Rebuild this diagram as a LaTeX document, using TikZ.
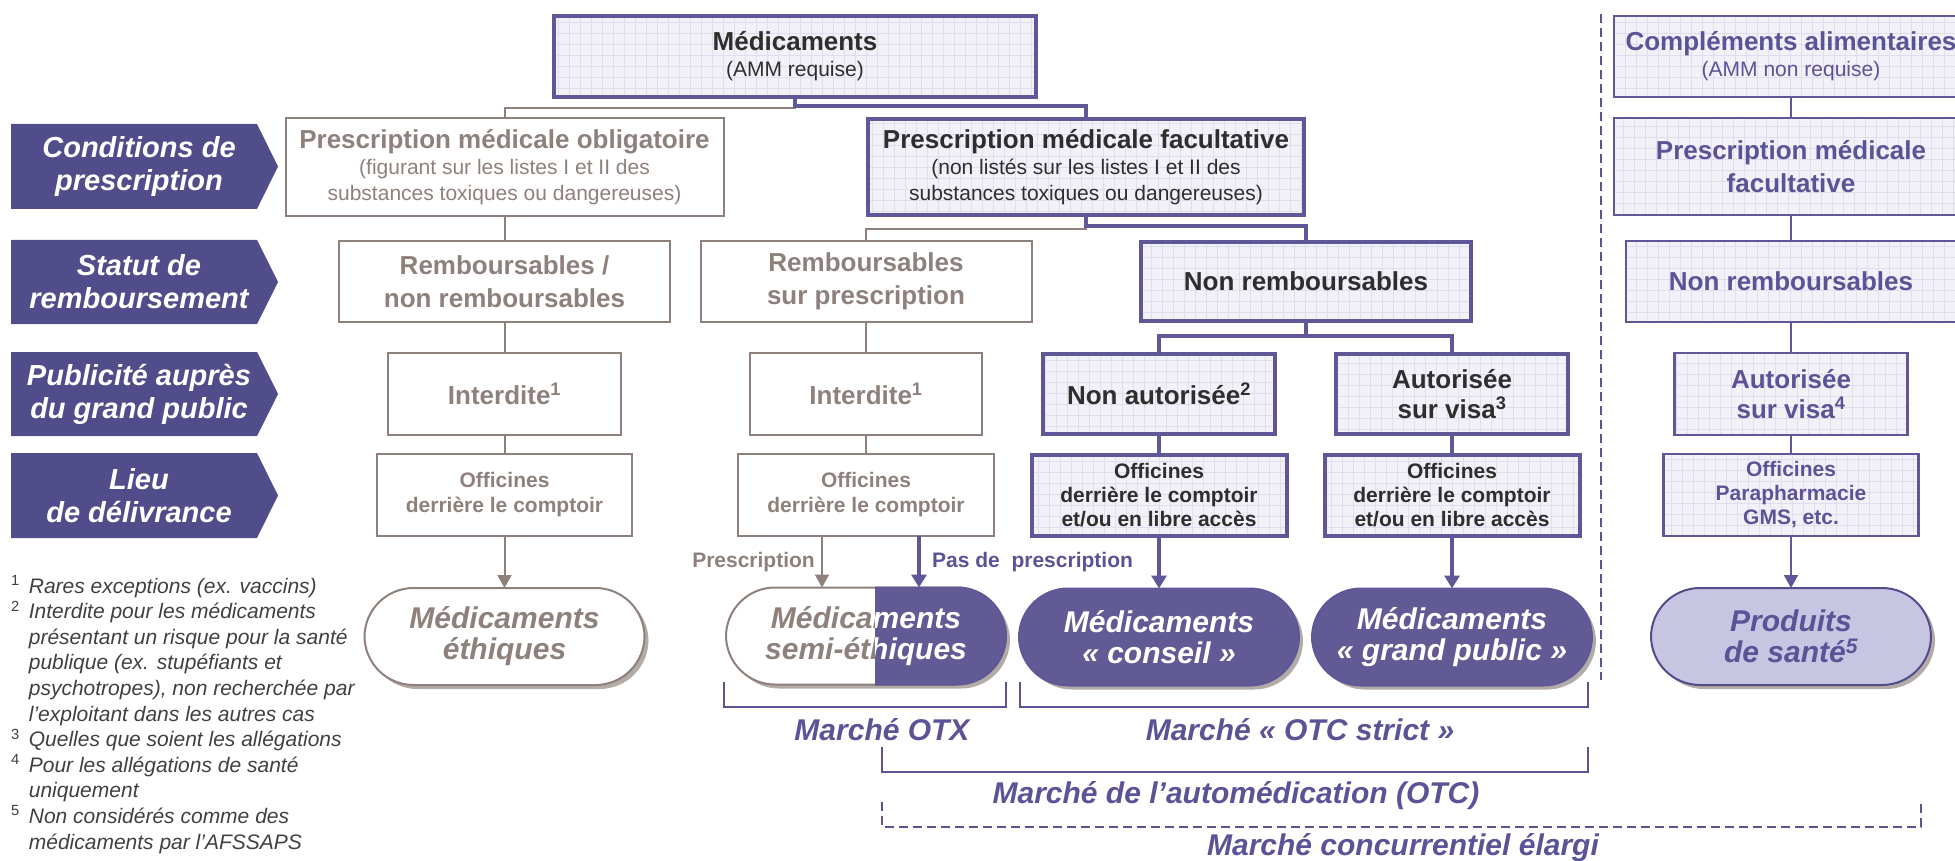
\documentclass[tikz,border=0pt]{standalone}
\usepackage{fontspec}
\setmainfont{Liberation Sans}
\usepackage{xcolor}
\usepackage{tikz}
\usetikzlibrary{arrows.meta,shadows}
\definecolor{catfill}{HTML}{514D8B}
\definecolor{mpurple}{HTML}{5E5899}
\definecolor{tpurple}{HTML}{5A5497}
\definecolor{pillfill}{HTML}{625A94}
\definecolor{lightpill}{HTML}{C8C5E2}
\definecolor{mgrey}{HTML}{8E817C}
\definecolor{darktext}{HTML}{2E2E2E}
\definecolor{boxfill}{HTML}{F2F1F8}
\definecolor{gridcol}{HTML}{E0DEEE}
\definecolor{shadowcol}{HTML}{B3ABA6}
\definecolor{notetext}{HTML}{404040}
\newcommand\boxtitle{\fontsize{26}{26}\selectfont\bfseries}
\tikzset{
  gridfill/.style={fill=boxfill, path picture={\draw[gridcol, line width=0.6pt, step=11pt] (path picture bounding box.south west) grid (path picture bounding box.north east);}},
  gbox/.style={rectangle, draw=mgrey, line width=2pt, fill=white, text=mgrey, align=center, inner sep=0pt, outer sep=0pt},
  pbox/.style={rectangle, draw=mpurple, line width=4pt, gridfill, text=darktext, align=center, inner sep=0pt, outer sep=0pt},
  rbox/.style={rectangle, draw=mpurple, line width=2.2pt, gridfill, text=tpurple, align=center, inner sep=0pt, outer sep=0pt},
  subtxt/.style={font=\fontsize{21}{26}\selectfont},
  bigtxt/.style={font=\fontsize{26}{33}\selectfont\bfseries},
  smalltxt/.style={font=\fontsize{21}{24}\selectfont\bfseries},
  pill/.style={rectangle, rounded corners=49pt, minimum width=280pt, minimum height=97pt, line width=2pt, align=center, inner sep=0pt, outer sep=0pt, font=\fontsize{30}{31}\selectfont\bfseries\itshape},
  pshadow/.style={drop shadow={shadow xshift=4pt, shadow yshift=-4pt, fill=shadowcol, opacity=1}},
  pilltext/.style={align=center, inner sep=0pt, font=\fontsize{30}{31}\selectfont\bfseries\itshape},
  gline/.style={draw=mgrey, line width=2pt},
  pline/.style={draw=mpurple, line width=3.5pt},
  tline/.style={draw=mpurple, line width=2.2pt},
  garrow/.style={gline, -{Triangle[length=13pt,width=14pt]}},
  parrow/.style={pline, -{Triangle[length=13pt,width=15pt]}},
  tarrow/.style={tline, -{Triangle[length=13pt,width=14pt]}},
  bline/.style={draw=tpurple, line width=2pt},
  dline/.style={draw=tpurple, line width=2pt, dash pattern=on 9pt off 5pt},
  cat/.style={text=white, align=center, inner sep=0pt, font=\fontsize{29}{33}\selectfont\bfseries\itshape},
  mlbl/.style={text=tpurple, inner sep=0pt, font=\fontsize{30}{30}\selectfont\bfseries\itshape},
  glbl/.style={text=mgrey, inner sep=0pt, font=\fontsize{21}{21}\selectfont\bfseries},
  plbl/.style={text=tpurple, inner sep=0pt, font=\fontsize{21}{21}\selectfont\bfseries},
  note/.style={text=notetext, inner sep=0pt, align=left, font=\fontsize{21}{25.6}\selectfont\itshape}
}

\begin{document}
\begin{tikzpicture}[x=1pt, y=-1pt]
  \useasboundingbox (0,0) rectangle (1955,861);
  \clip (0,0) rectangle (1955,861);

  % row headers
  \fill[catfill] (11,124) -- (257,124) -- (278,166.5) -- (257,209) -- (11,209) -- cycle;
  \fill[catfill] (11,240) -- (257,240) -- (278,282) -- (257,324) -- (11,324) -- cycle;
  \fill[catfill] (11,352) -- (257,352) -- (278,394) -- (257,436) -- (11,436) -- cycle;
  \fill[catfill] (11,453) -- (257,453) -- (278,495.5) -- (257,538) -- (11,538) -- cycle;
  \node[cat] (cond) at (139,166.5) {Conditions de\\prescription};
  \node[cat] (remb) at (139,282) {Statut de\\remboursement};
  \node[cat] (pub) at (139,394) {Publicité auprès\\du grand public};
  \node[cat] (lieu) at (139,495.5) {Lieu\\de délivrance};

  % boxes
  \node[pbox, subtxt, minimum width=482pt, minimum height=81pt] (med) at (795,56.5) {{\boxtitle Médicaments}\\(AMM requise)};
  \node[rbox, subtxt, minimum width=354pt, minimum height=81pt] (comp) at (1791,56.5) {{\boxtitle Compléments alimentaires}\\(AMM non requise)};

  \node[gbox, subtxt, minimum width=438pt, minimum height=98pt] (pmo) at (504.5,167) {{\boxtitle Prescription médicale obligatoire}\\(figurant sur les listes I et II des\\substances toxiques ou dangereuses)};
  \node[pbox, subtxt, minimum width=436pt, minimum height=96pt] (pmf) at (1086,167) {{\boxtitle Prescription médicale facultative}\\(non listés sur les listes I et II des\\substances toxiques ou dangereuses)};
  \node[rbox, bigtxt, minimum width=354pt, minimum height=97pt] (pmfc) at (1791,166.5) {Prescription médicale\\facultative};

  \node[gbox, bigtxt, minimum width=331pt, minimum height=81pt] (rbnr) at (504.5,281.5) {Remboursables /\\non remboursables};
  \node[gbox, bigtxt, minimum width=331pt, minimum height=81pt] (rbsp) at (866,281.5) {Remboursables\\sur prescription};
  \node[pbox, bigtxt, minimum width=330pt, minimum height=79pt] (nonr) at (1306,281.5) {Non remboursables};
  \node[rbox, bigtxt, minimum width=330pt, minimum height=81pt] (nonrc) at (1791,281.5) {Non remboursables};

  \node[gbox, bigtxt, minimum width=233pt, minimum height=82pt] (int1) at (504.5,394) {Interdite\textsuperscript{1}};
  \node[gbox, bigtxt, minimum width=232pt, minimum height=82pt] (int2) at (866,394) {Interdite\textsuperscript{1}};
  \node[pbox, bigtxt, minimum width=232pt, minimum height=80pt] (nona) at (1159,394) {Non autorisée\textsuperscript{2}};
  \node[pbox, bigtxt, font=\fontsize{26}{30}\selectfont\bfseries, minimum width=232pt, minimum height=80pt] (aut) at (1452,394) {Autorisée\\sur visa\textsuperscript{3}};
  \node[rbox, bigtxt, font=\fontsize{26}{30}\selectfont\bfseries, minimum width=233pt, minimum height=82pt] (autc) at (1791,394) {Autorisée\\sur visa\textsuperscript{4}};

  \node[gbox, smalltxt, font=\fontsize{21}{25}\selectfont\bfseries, minimum width=255pt, minimum height=82pt] (off1) at (504.5,495) {Officines\\derrière le comptoir};
  \node[gbox, smalltxt, font=\fontsize{21}{25}\selectfont\bfseries, minimum width=256pt, minimum height=82pt] (off2) at (866,495) {Officines\\derrière le comptoir};
  \node[pbox, smalltxt, minimum width=255pt, minimum height=81pt] (off3) at (1159,495.5) {Officines\\derrière le comptoir\\et/ou en libre accès};
  \node[pbox, smalltxt, minimum width=255pt, minimum height=81pt] (off4) at (1452,495.5) {Officines\\derrière le comptoir\\et/ou en libre accès};
  \node[rbox, smalltxt, minimum width=255pt, minimum height=82pt] (offc) at (1791,495) {Officines\\Parapharmacie\\GMS, etc.};

  % pills
  \node[pill, pshadow, fill=white, draw=mgrey, text=mgrey] (eth) at (504.5,636.5) {Médicaments\\éthiques};
  \node[pill, pshadow, fill=white, draw=mgrey, text=mgrey] (semi) at (866,636) {Médicaments\\semi-éthiques};
  \begin{scope}
    \clip (875,570) rectangle (1030,700);
    \draw[fill=pillfill, draw=mpurple, line width=2pt, rounded corners=49pt] (semi.south west) rectangle (semi.north east);
    \node[pilltext, text=white] (semiw) at (semi.center) {Médicaments\\semi-éthiques};
  \end{scope}
  \node[pill, pshadow, fill=pillfill, draw=mpurple, text=white] (cons) at (1159,637) {Médicaments\\«~conseil~»};
  \node[pill, pshadow, fill=pillfill, draw=mpurple, text=white] (gpub) at (1452,637) {Médicaments\\«~grand public~»};
  \node[pill, pshadow, fill=lightpill, draw=catfill, text=tpurple] (prod) at (1791,636.5) {Produits\\de santé\textsuperscript{5}};

  % connectors
  \draw[gline] (pmo.north) -- ++(0,-10) -| (med.south);
  \draw[pline] (med.south) -- ++(0,9) -| (pmf.north);
  \draw[gline] (pmo.south) -- (rbnr.north);
  \draw[gline] (rbsp.north) -- ++(0,-12) -| (pmf.south);
  \draw[pline] (pmf.south) -- ++(0,11) -| (nonr.north);
  \draw[pline] (nonr.south) -- ++(0,15) -| (nona.north);
  \draw[pline] (nonr.south) -- ++(0,15) -| (aut.north);
  \draw[gline] (rbnr.south) -- (int1.north);
  \draw[gline] (int1.south) -- (off1.north);
  \draw[gline] (rbsp.south) -- (int2.north);
  \draw[gline] (int2.south) -- (off2.north);
  \draw[pline] (nona.south) -- (off3.north);
  \draw[pline] (aut.south) -- (off4.north);
  \draw[tline] (comp.south) -- (pmfc.north);
  \draw[tline] (pmfc.south) -- (nonrc.north);
  \draw[tline] (nonrc.south) -- (autc.north);
  \draw[tline] (autc.south) -- (offc.north);

  \coordinate (rx) at (822,0);
  \coordinate (px) at (919,0);
  \draw[garrow] (off1.south) -- (eth.north);
  \draw[garrow] (off2.south -| rx) -- (semi.north -| rx);
  \draw[parrow] (off2.south -| px) -- (semi.north -| px);
  \draw[parrow] (off3.south) -- (cons.north);
  \draw[parrow] (off4.south) -- (gpub.north);
  \draw[tarrow] (offc.south) -- (prod.north);
  \node[glbl, anchor=east] (lpres) at (815,562) {Prescription};
  \node[plbl, anchor=west] (lnopres) at (932,562) {Pas de\ \ prescription};

  % separation and markets
  \coordinate (sepT) at (1601,14);
  \coordinate (sepB) at (1601,680);
  \draw[dline] (sepT) -- (sepB);

  \coordinate (otxA) at (724,682);
  \coordinate (otxB) at (1006,682);
  \coordinate (otcA) at (1020,682);
  \coordinate (otcB) at (1588,682);
  \coordinate (autoA) at (882,747);
  \coordinate (autoB) at (1588,747);
  \coordinate (concA) at (882,802);
  \coordinate (concB) at (1921,802);
  \draw[bline] (otxA) -- ++(0,25) -| (otxB);
  \draw[bline] (otcA) -- ++(0,25) -| (otcB);
  \draw[bline] (autoA) -- ++(0,25) -| (autoB);
  \draw[dline] (concA) -- ++(0,25) -| (concB);
  \node[mlbl] (motx) at (882,730) {Marché OTX};
  \node[mlbl] (motc) at (1300,730) {Marché «~OTC strict~»};
  \node[mlbl] (mauto) at (1236,796) {Marché de l’automédication (OTC)};
  \node[mlbl] (mconc) at (1403,848) {Marché concurrentiel élargi};

  % footnotes
  \node[note, anchor=north west] (notes) at (11,575) {\begin{tabular}{@{}l@{\hspace{9pt}}l@{}}
    \textup{\textsuperscript{1}} & Rares exceptions (ex. vaccins)\\
    \textup{\textsuperscript{2}} & Interdite pour les médicaments\\
    & présentant un risque pour la santé\\
    & publique (ex. stupéfiants et\\
    & psychotropes), non recherchée par\\
    & l’exploitant dans les autres cas\\
    \textup{\textsuperscript{3}} & Quelles que soient les allégations\\
    \textup{\textsuperscript{4}} & Pour les allégations de santé\\
    & uniquement\\
    \textup{\textsuperscript{5}} & Non considérés comme des\\
    & médicaments par l’AFSSAPS
  \end{tabular}};
\end{tikzpicture}
\end{document}
